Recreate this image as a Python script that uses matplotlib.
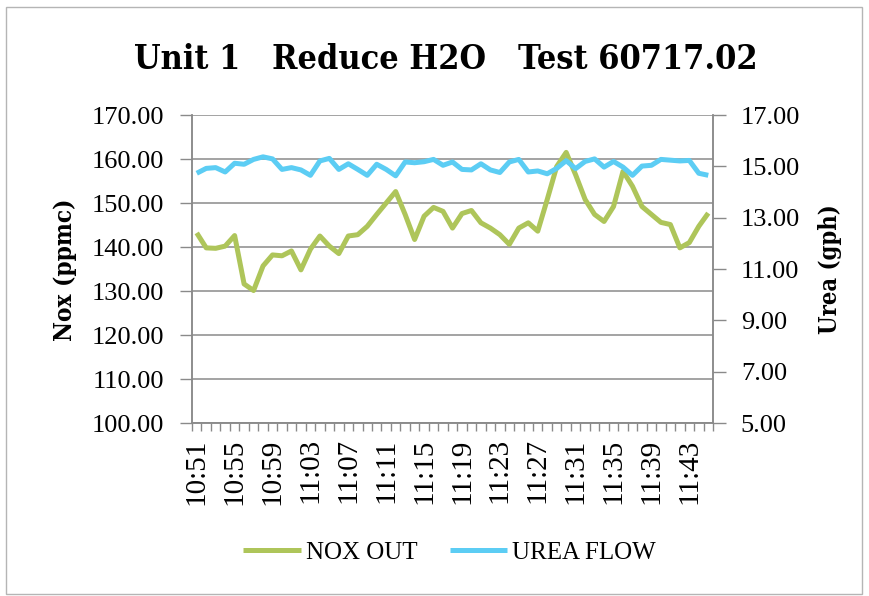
import matplotlib
matplotlib.use("Agg")
import matplotlib.pyplot as plt
from matplotlib.patches import Rectangle
import numpy as np

times = ["10:51","10:52","10:53","10:54","10:55","10:56","10:57","10:58","10:59","11:00",
         "11:01","11:02","11:03","11:04","11:05","11:06","11:07","11:08","11:09","11:10",
         "11:11","11:12","11:13","11:14","11:15","11:16","11:17","11:18","11:19","11:20",
         "11:21","11:22","11:23","11:24","11:25","11:26","11:27","11:28","11:29","11:30",
         "11:31","11:32","11:33","11:34","11:35","11:36","11:37","11:38","11:39","11:40",
         "11:41","11:42","11:43","11:44","11:45"]

nox_out = [143.2, 139.8, 139.7, 140.2, 142.6, 131.6, 130.1, 135.7, 138.2, 138.0,
           139.1, 134.8, 139.5, 142.5, 140.2, 138.5, 142.5, 142.8, 144.7, 147.4,
           150.0, 152.6, 147.4, 141.7, 147.0, 149.0, 148.1, 144.3, 147.6, 148.3,
           145.5, 144.3, 142.8, 140.6, 144.3, 145.5, 143.6, 150.8, 158.3, 161.5,
           156.4, 150.8, 147.4, 145.8, 149.2, 157.2, 153.8, 149.2, 147.4, 145.6,
           145.1, 139.8, 141.0, 144.7, 147.7]

urea_flow = [14.73, 14.92, 14.95, 14.78, 15.12, 15.08, 15.27, 15.37, 15.29, 14.88,
             14.95, 14.86, 14.65, 15.21, 15.31, 14.88, 15.10, 14.88, 14.65, 15.08,
             14.88, 14.63, 15.17, 15.14, 15.18, 15.27, 15.04, 15.17, 14.88, 14.86,
             15.10, 14.86, 14.76, 15.17, 15.27, 14.78, 14.82, 14.71, 14.92, 15.22,
             14.91, 15.19, 15.29, 14.97, 15.19, 14.97, 14.65, 15.01, 15.04, 15.27,
             15.24, 15.21, 15.23, 14.73, 14.65]

label_times = ["10:51","10:55","10:59","11:03","11:07","11:11","11:15",
               "11:19","11:23","11:27","11:31","11:35","11:39","11:43"]

left_ticks = [100, 110, 120, 130, 140, 150, 160, 170]
right_ticks = [5, 7, 9, 11, 13, 15, 17]

title = "Unit 1   Reduce H2O   Test 60717.02"

SERIF = ["Liberation Serif", "DejaVu Serif"]
GREEN = "#AEC55A"
BLUE = "#5CCDF4"
GRID = "#8a8a8a"

fig = plt.figure(figsize=(8.7, 5.96), dpi=100)
fig.patches.append(Rectangle((0.007, 0.004), 0.984, 0.984, transform=fig.transFigure,
                             fill=False, edgecolor="#b5b5b5", linewidth=1.0))

ax = fig.add_axes([192/870, 1-423/596, (713-192)/870, (423-115)/596])
ax2 = ax.twinx()

x = np.arange(len(times))
ax.plot(x, nox_out, color=GREEN, linewidth=3.6, solid_capstyle="butt", label="NOX OUT", zorder=3)
ax2.plot(x, urea_flow, color=BLUE, linewidth=3.6, solid_capstyle="butt", label="UREA FLOW", zorder=3)

ax.set_xlim(-0.5, len(times) - 0.5)
ax.set_ylim(100, 170)
ax2.set_ylim(5, 17)

ax.set_yticks(left_ticks)
ax.set_yticklabels([f"{v:.2f}" for v in left_ticks], fontsize=19, family=SERIF)
ax2.set_yticks(right_ticks)
ax2.set_yticklabels([f"{v:.2f}" for v in right_ticks], fontsize=19, family=SERIF)

label_pos = [times.index(t) for t in label_times]
ax.set_xticks(label_pos)
ax.set_xticklabels(label_times, rotation=90, fontsize=21, family=SERIF)
ax.tick_params(axis="x", length=0, pad=11)
ax.set_xticks(np.arange(-0.5, len(times), 1.0), minor=True)
ax.tick_params(axis="x", which="minor", length=6, direction="out", color=GRID, width=1)

ax.tick_params(axis="y", length=9, direction="out", color=GRID, width=1, pad=11)
ax2.tick_params(axis="y", length=9, direction="out", color=GRID, width=1, pad=11)

ax.yaxis.grid(True, color=GRID, linewidth=1.1)
ax.set_axisbelow(True)

for a in (ax, ax2):
    a.spines["top"].set_visible(False)
    for s in ["left", "right", "bottom"]:
        a.spines[s].set_color(GRID)
        a.spines[s].set_linewidth(1.1)

fig.text(0.512, 0.901, title, ha="center", va="center", fontsize=24.5,
         fontweight="bold", family="DejaVu Serif", fontstretch="condensed")
fig.text(0.075, 0.547, "Nox (ppmc)", rotation=90, ha="center", va="center",
         fontsize=17.5, fontweight="bold", family="DejaVu Serif", fontstretch="condensed")
fig.text(0.954, 0.548, "Urea (gph)", rotation=90, ha="center", va="center",
         fontsize=17, fontweight="bold", family="DejaVu Serif", fontstretch="condensed")

h1, l1 = ax.get_legend_handles_labels()
h2, l2 = ax2.get_legend_handles_labels()
leg = fig.legend(h1 + h2, l1 + l2, loc="center", bbox_to_anchor=(0.517, 0.073), ncol=2,
                 frameon=False, prop={"family": SERIF, "size": 18},
                 handlelength=2.3, handletextpad=0.2, columnspacing=1.3)

fig.savefig("out.png", dpi=100)
